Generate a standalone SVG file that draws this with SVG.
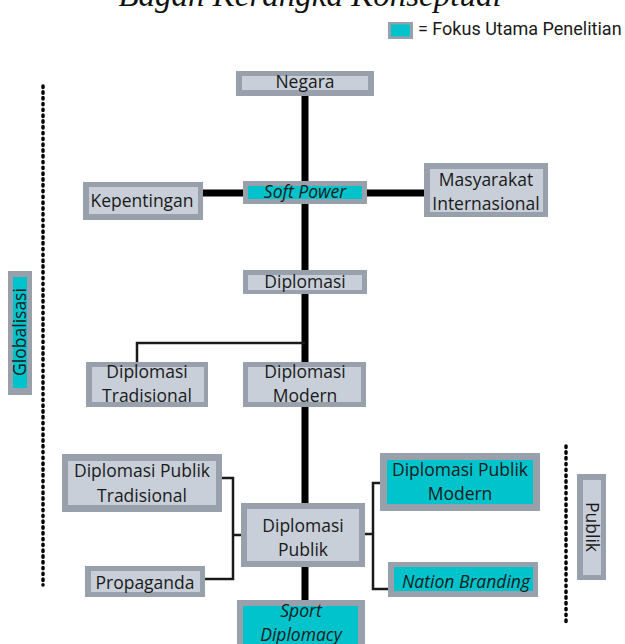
<svg xmlns="http://www.w3.org/2000/svg" width="625" height="644" viewBox="0 0 625 644">
<style>
.o{fill:#98a1ab}
.i{fill:#c8cfd8}
.t{fill:#00c3cc}
.lbl{font-family:"Open Sans","Liberation Sans",sans-serif;font-size:17.5px;fill:#1a1a1a;text-anchor:middle}
.it{font-style:italic}
.thick{stroke:#000;stroke-width:7;fill:none}
.thin{stroke:#1a1a1a;stroke-width:2.5;fill:none}
.dot{stroke:#000;stroke-width:3.5;stroke-dasharray:1.4 4.4;stroke-linecap:round;fill:none}
</style>
<rect width="625" height="644" fill="#fff"/>
<text x="310" y="6" text-anchor="middle" font-family="Liberation Serif,serif" font-style="italic" font-size="33" fill="#111">Bagan Kerangka Konseptual</text>
<g id="legend">
<rect x="388" y="22" width="25" height="17" class="o"/>
<rect x="391" y="24.5" width="19" height="12" class="t"/>
<text x="418" y="35" font-family="Roboto,sans-serif" font-size="18" fill="#1a1a1a">= Fokus Utama Penelitian</text>
</g>
<g id="connectors">
<line x1="305" y1="96" x2="305" y2="600" class="thick"/>
<line x1="203" y1="193" x2="243" y2="193" class="thick"/>
<line x1="367" y1="193" x2="424" y2="193" class="thick"/>
<path d="M137,362 V343 H305" class="thin"/>
<path d="M222,478 H233 V579 H205 M233,535 H241" class="thin"/>
<path d="M380,483 H373 V589 H388 M365,534 H373" class="thin"/>
<line x1="43" y1="86" x2="43" y2="585" class="dot"/>
<line x1="566" y1="446" x2="566" y2="622" class="dot"/>
</g>
<g id="negara">
<rect x="236" y="71" width="138" height="25" class="o"/>
<rect x="242" y="76" width="126" height="14" class="i"/>
<text x="305" y="88" class="lbl">Negara</text>
</g>
<g id="softpower">
<rect x="243" y="181" width="124" height="23" class="o"/>
<rect x="248" y="186" width="114" height="13" class="t"/>
<text x="305" y="198" class="lbl it">Soft Power</text>
</g>
<g id="kepentingan">
<rect x="83" y="182" width="120" height="38" class="o"/>
<rect x="89" y="187" width="109" height="27" class="i"/>
<text x="142" y="207" class="lbl">Kepentingan</text>
</g>
<g id="masyarakat">
<rect x="424" y="163" width="124" height="54" class="o"/>
<rect x="430" y="169" width="113" height="43" class="i"/>
<text x="486" y="186" class="lbl">Masyarakat</text>
<text x="486" y="210" class="lbl">Internasional</text>
</g>
<g id="diplomasi">
<rect x="243" y="270" width="124" height="24" class="o"/>
<rect x="248" y="275" width="114" height="15" class="i"/>
<text x="305" y="288" class="lbl">Diplomasi</text>
</g>
<g id="diplomasi-tradisional">
<rect x="86" y="362" width="122" height="45" class="o"/>
<rect x="92" y="367" width="112" height="35" class="i"/>
<text x="147" y="378" class="lbl">Diplomasi</text>
<text x="147" y="402" class="lbl">Tradisional</text>
</g>
<g id="diplomasi-modern">
<rect x="243" y="362" width="123" height="45" class="o"/>
<rect x="248" y="367" width="113" height="35" class="i"/>
<text x="305" y="378" class="lbl">Diplomasi</text>
<text x="305" y="402" class="lbl">Modern</text>
</g>
<g id="dpt">
<rect x="62" y="454" width="160" height="58" class="o"/>
<rect x="68" y="461" width="148" height="44" class="i"/>
<text x="142" y="477" class="lbl">Diplomasi Publik</text>
<text x="142" y="502" class="lbl">Tradisional</text>
</g>
<g id="diplomasi-publik">
<rect x="241" y="503" width="124" height="64" class="o"/>
<rect x="247" y="509" width="112" height="52" class="i"/>
<text x="303" y="532" class="lbl">Diplomasi</text>
<text x="303" y="556" class="lbl">Publik</text>
</g>
<g id="propaganda">
<rect x="85" y="566" width="120" height="31" class="o"/>
<rect x="91" y="571" width="109" height="21" class="i"/>
<text x="145" y="589" class="lbl">Propaganda</text>
</g>
<g id="dpm">
<rect x="380" y="453" width="160" height="58" class="o"/>
<rect x="387" y="460" width="146" height="44" class="t"/>
<text x="460" y="476" class="lbl">Diplomasi Publik</text>
<text x="460" y="500" class="lbl">Modern</text>
</g>
<g id="nation-branding">
<rect x="388" y="562" width="150" height="35" class="o"/>
<rect x="394" y="567" width="139" height="24" class="t"/>
<text x="466" y="588" class="lbl it">Nation Branding</text>
</g>
<g id="sport-diplomacy">
<rect x="237" y="600" width="128" height="50" class="o"/>
<rect x="243" y="606" width="115" height="44" class="t"/>
<text x="301" y="617" class="lbl it">Sport</text>
<text x="301" y="641" class="lbl it">Diplomacy</text>
</g>
<g id="globalisasi">
<rect x="8" y="271" width="24" height="124" class="o"/>
<rect x="13" y="277" width="14" height="111" class="t"/>
<text transform="translate(26,332) rotate(-90)" class="lbl">Globalisasi</text>
</g>
<g id="publik">
<rect x="577" y="474" width="29" height="106" class="o"/>
<rect x="583" y="480" width="18" height="95" class="i"/>
<text transform="translate(586,527) rotate(90)" class="lbl">Publik</text>
</g>
</svg>
